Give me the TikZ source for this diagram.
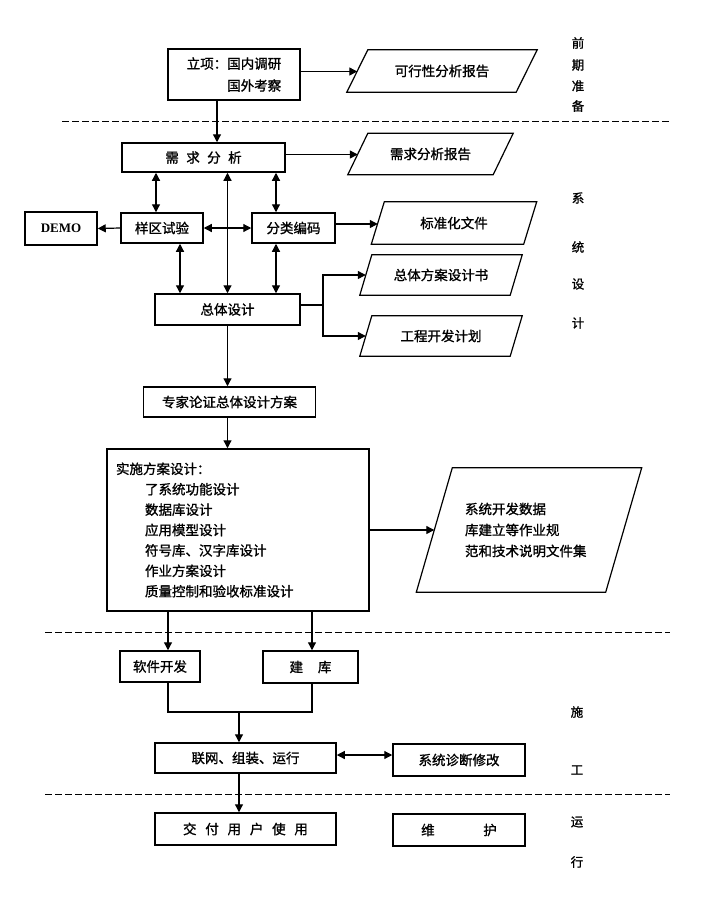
\documentclass[tikz,border=0pt]{standalone}
\usepackage{fontspec}
\setmainfont{Noto Sans CJK SC}[FakeBold=1.2]
\newfontfamily\latinserif{Liberation Serif}
\usetikzlibrary{arrows.meta}
\newcommand\drawslanted[2]{%
  \draw[pline] ([xshift=-#2]#1.south west) -- ([xshift=#2]#1.north west) --
    ([xshift=#2]#1.north east) -- ([xshift=-#2]#1.south east) -- cycle;}
\begin{document}
\begin{tikzpicture}[x=1pt,y=-1pt,
  every node/.style={font=\fontsize{13.5}{20}\selectfont, inner sep=0pt},
  box/.style={draw, line width=1.5pt},
  para/.style={inner sep=0pt},
  pline/.style={line width=1.2pt, line join=miter},
  tip/.tip={Triangle[length=8pt,width=8pt]},
  arr/.style={-tip, line width=1.2pt},
  darr/.style={tip-tip, line width=1.2pt},
  ln/.style={line width=1.2pt},
  sep/.style={line width=1pt, dash pattern=on 7pt off 3pt},
  side/.style={font=\fontsize{12.5}{14}\selectfont}
]
\useasboundingbox (0,0) rectangle (721,914);
\fill[white] (0,0) rectangle (721,914);

% phase 1
\node[box, minimum width=132, minimum height=51, align=left, font=\fontsize{13.5}{22}\selectfont] (lx) at (234,74.5) {立项：国内调研\\\phantom{立项：}国外考察};
\node[para, minimum width=169, minimum height=42] (kx) at (442,71) {可行性分析报告};
\drawslanted{kx}{10.5}
\draw[arr] ([yshift=3pt]lx.east) -- ([yshift=3pt]lx.east -| kx.west);

% phase 2
\node[box, minimum width=163, minimum height=29] (xq) at (203.5,157.5) {需\hspace{0.55em}求\hspace{0.55em}分\hspace{0.55em}析};
\node[para, minimum width=145, minimum height=41] (xqbg) at (430.5,154) {需求分析报告};
\drawslanted{xqbg}{10}
\draw[arr] ([yshift=3pt]xq.east) -- ([yshift=3pt]xq.east -| xqbg.west);

\node[box, minimum width=72, minimum height=33, font=\latinserif\fontsize{13}{14}\selectfont\bfseries] (demo) at (61,228.5) {DEMO};
\node[box, minimum width=82, minimum height=30] (yq) at (162,228) {样区试验};
\node[box, minimum width=83, minimum height=30] (fl) at (293.5,228) {分类编码};
\node[para, minimum width=152, minimum height=42] (bz) at (454,223) {标准化文件};
\drawslanted{bz}{6.5}
\draw[arr] (yq.west) -- (demo.east);
\draw[darr] (yq.east) -- (fl.west);
\draw[arr] ([yshift=4pt]fl.east) -- ([yshift=4pt]fl.east -| bz.west);

\node[box, minimum width=145, minimum height=31] (zt) at (227.5,309.5) {总体设计};
\node[para, minimum width=150, minimum height=40] (zf) at (441,275) {总体方案设计书};
\drawslanted{zf}{6}
\node[para, minimum width=150, minimum height=40] (gc) at (441,336) {工程开发计划};
\drawslanted{gc}{6}

\draw[darr] ([xshift=-6]yq.north |- xq.south) -- ([xshift=-6]yq.north);
\draw[darr] ([xshift=-17.5]fl.north |- xq.south) -- ([xshift=-17.5]fl.north);
\draw[darr] (zt.north |- xq.south) -- (zt.north);
\draw[darr] ([xshift=18]yq.south) -- ([xshift=18]yq.south |- zt.north);
\draw[darr] ([xshift=-17.5]fl.south) -- ([xshift=-17.5]fl.south |- zt.north);

\coordinate (zb) at (323,305);
\draw[ln] ([yshift=4.5pt]zt.east) -- (zb);
\draw[arr] (zb) |- (zf.west);
\draw[arr] (zb) |- (gc.west);

\draw[arr] ([xshift=-17]lx.south) -- ([xshift=-17]lx.south |- xq.north);

\node[box, minimum width=172, minimum height=30] (zj) at (229.5,402) {专家论证总体设计方案};
\draw[arr] (zt.south) -- (zt.south |- zj.north);

\node[box, minimum width=262, minimum height=162, text width=244, align=left, font=\fontsize{13.5}{20.4}\selectfont] (ss) at (238,530)
  {实施方案设计：\\
   \hspace{29pt}了系统功能设计\\
   \hspace{29pt}数据库设计\\
   \hspace{29pt}应用模型设计\\
   \hspace{29pt}符号库、汉字库设计\\
   \hspace{29pt}作业方案设计\\
   \hspace{29pt}质量控制和验收标准设计};
\draw[arr] (zt.south |- zj.south) -- (zt.south |- ss.north);

\node[para, minimum width=189, minimum height=124, text width=128, align=left, font=\fontsize{13.5}{21}\selectfont] (sj) at (529,530)
  {系统开发数据\\库建立等作业规\\范和技术说明文件集};
\drawslanted{sj}{18}
\draw[arr] (ss.east) -- (sj.west);

% phase 3
\node[box, minimum width=80, minimum height=31] (rj) at (160,666.5) {软件开发};
\node[box, minimum width=95, minimum height=32] (jk) at (310.5,667) {建\hspace{1.1em}库};
\draw[arr] ([xshift=8]rj.north |- ss.south) -- ([xshift=8]rj.north);
\draw[arr] ([xshift=1.5]jk.north |- ss.south) -- ([xshift=1.5]jk.north);

\node[box, minimum width=181, minimum height=30] (lw) at (245.5,758) {联网、组装、运行};
\node[box, minimum width=132, minimum height=32] (zd) at (459,760) {系统诊断修改};
\coordinate (m) at (239,712);
\draw[ln] ([xshift=8]rj.south) |- (m) -| ([xshift=1.5]jk.south);
\draw[arr] (m) -- (m |- lw.north);
\draw[darr] ([yshift=3pt]lw.east) -- ([yshift=3pt]lw.east -| zd.west);

% phase 4
\node[box, minimum width=181, minimum height=32] (jf) at (245.5,829) {交\hspace{0.65em}付\hspace{0.65em}用\hspace{0.65em}户\hspace{0.65em}使\hspace{0.65em}用};
\node[box, minimum width=132, minimum height=32] (wh) at (459,830) {维\hspace{3.6em}护};
\draw[arr] (m |- lw.south) -- (m |- jf.north);

% separators
\coordinate (d1a) at (62,121); \coordinate (d1b) at (672,121);
\coordinate (d2a) at (45,632); \coordinate (d2b) at (670,632);
\coordinate (d3a) at (45,794); \coordinate (d3b) at (670,794);
\draw[sep] (d1a) -- (d1b);
\draw[sep] (d2a) -- (d2b);
\draw[sep] (d3a) -- (d3b);

% side labels
\node[side] (s1) at (578,43) {前};
\node[side] (s2) at (578,65) {期};
\node[side] (s3) at (578,86) {准};
\node[side] (s4) at (578,106) {备};
\node[side] (s5) at (578,198) {系};
\node[side] (s6) at (578,247) {统};
\node[side] (s7) at (578,284) {设};
\node[side] (s8) at (578,323) {计};
\node[side] (s9) at (577,712) {施};
\node[side] (s10) at (577,770) {工};
\node[side] (s11) at (577,822) {运};
\node[side] (s12) at (577,862) {行};
\end{tikzpicture}
\end{document}
